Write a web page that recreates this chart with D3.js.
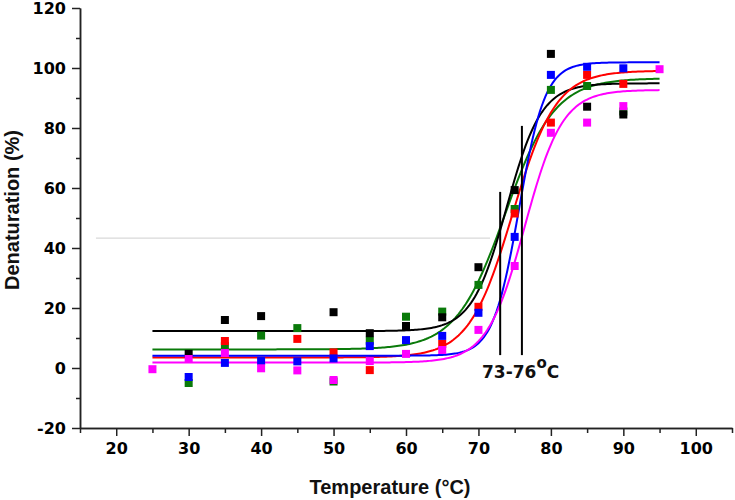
<!DOCTYPE html>
<html>
<head>
<meta charset="utf-8">
<script src="https://cdn.jsdelivr.net/npm/d3@7"></script>
<style>
  body { margin: 0; background: #fff; }
  svg { display: block; }
  .tick text { font-family: "DejaVu Sans", sans-serif; font-weight: bold; font-size: 16px; fill: #000; }
  .axis path, .axis line { stroke: #222; stroke-width: 1.5; }
  .title { font-family: "Liberation Sans", Arial, sans-serif; font-weight: bold; font-size: 20px; fill: #111; }
</style>
</head>
<body>
<div id="chart"></div>
<script>
const width = 735;
const height = 500;

// measured temperatures (°C)
const temps = [25, 30, 35, 40, 45, 50, 55, 60, 65, 70, 75, 80, 85, 90, 95];

// denaturation (%) per sample, null = no point
const blackVals   = [null, 4.7, 16, 17.3, null, 18.6, 11.6, 14, 16.9, 33.6, 59.3, 104.7, 87.1, 84.5, null];
const greenVals   = [null, -5, 7.3, 10.8, 13.3, -4.5, 9.1, 17.1, 18.8, 27.7, 53, 92.7, 94, 85.5, null];
const redVals     = [null, null, 9, null, 9.7, 5.2, -0.7, null, 8, 20.4, 51.5, 81.8, 97.7, 94.7, null];
const blueVals    = [null, -3, 1.7, 2.3, 2.2, 3.2, 7.3, 9.3, 10.7, 18.4, 43.7, 97.7, 100.4, 99.9, null];
const magentaVals = [-0.4, 3, 5, -0.1, -0.8, -4, 2.3, 4.7, 6, 12.7, 34, 78.4, 81.8, 87.3, 99.6];

const seriesNames  = ["green", "black", "red", "blue", "magenta"];
const seriesColors = ["#0a7a0a", "#000000", "#ff0000", "#0000ff", "#ff00ff"];
const seriesVals   = [greenVals, blackVals, redVals, blueVals, magentaVals];

// Boltzmann fit: bottom, top, midpoint, width
const fitBottom = [6.2, 12.3, 3.5, 4.1, 1.8];
const fitTop    = [96.6, 94.9, 99.1, 101.9, 92.7];
const fitMid    = [73.7, 73.9, 74.7, 75.6, 76.4];
const fitWidth  = [3.4, 2.4, 3.0, 1.8, 2.6];
const fitRange  = [25, 95];

// annotation
const markTemps  = [73, 76];
const markTops   = [58.7, 80.7];
const markBottom = 4.3;
const refLevel   = 43.3;
const refFrom    = 17.2;
const refTo      = 71.6;

const xTicks = [20, 30, 40, 50, 60, 70, 80, 90, 100];
const xMinor = [15, 25, 35, 45, 55, 65, 75, 85, 95, 105];
const yTicks = [-20, 0, 20, 40, 60, 80, 100, 120];
const yMinor = [-10, 10, 30, 50, 70, 90, 110];

const svg = d3.select("#chart")
  .append("svg")
  .attr("width", width)
  .attr("height", height);

const x = d3.scaleLinear().domain([15, 105]).range([80, 732]);
const y = d3.scaleLinear().domain([-20, 120]).range([428, 8]);

const plain = function (d) { return String(d); };

// axes
svg.append("g")
  .attr("class", "axis")
  .attr("transform", "translate(0," + y(-20) + ")")
  .call(d3.axisBottom(x).tickValues(xMinor).tickSize(5).tickSizeOuter(0).tickFormat(""));
svg.append("g")
  .attr("class", "axis")
  .attr("transform", "translate(0," + y(-20) + ")")
  .call(d3.axisBottom(x).tickValues(xTicks).tickSize(8).tickSizeOuter(0).tickPadding(7).tickFormat(plain));

svg.append("g")
  .attr("class", "axis")
  .attr("transform", "translate(" + x(15) + ",0)")
  .call(d3.axisLeft(y).tickValues(yMinor).tickSize(4).tickSizeOuter(0).tickFormat(""));
svg.append("g")
  .attr("class", "axis")
  .attr("transform", "translate(" + x(15) + ",0)")
  .call(d3.axisLeft(y).tickValues(yTicks).tickSize(8).tickSizeOuter(0).tickPadding(6).tickFormat(plain));

// titles
svg.append("text")
  .attr("class", "title")
  .attr("text-anchor", "middle")
  .attr("x", 390)
  .attr("y", 494)
  .text("Temperature (°C)");

svg.append("text")
  .attr("class", "title")
  .attr("text-anchor", "middle")
  .attr("transform", "translate(19,210) rotate(-90)")
  .text("Denaturation (%)");

// faint reference line
svg.append("line")
  .attr("x1", x(refFrom)).attr("x2", x(refTo))
  .attr("y1", y(refLevel)).attr("y2", y(refLevel))
  .attr("stroke", "#cfcfcf")
  .attr("stroke-width", 1);

// fitted curves
const line = d3.line()
  .x(function (d) { return x(d[0]); })
  .y(function (d) { return y(d[1]); });

seriesNames.forEach(function (name, i) {
  const pts = d3.range(fitRange[0], fitRange[1] + 0.001, 0.25).map(function (t) {
    const v = fitBottom[i] + (fitTop[i] - fitBottom[i]) / (1 + Math.exp((fitMid[i] - t) / fitWidth[i]));
    return [t, v];
  });
  svg.append("path")
    .datum(pts)
    .attr("fill", "none")
    .attr("stroke", seriesColors[i])
    .attr("stroke-width", 2)
    .attr("d", line);
});

// data points
seriesNames.forEach(function (name, i) {
  const pts = temps.map(function (t, j) { return [t, seriesVals[i][j]]; })
    .filter(function (d) { return d[1] !== null; });
  svg.append("g")
    .selectAll("rect")
    .data(pts).enter()
    .append("rect")
    .attr("x", function (d) { return x(d[0]) - 4; })
    .attr("y", function (d) { return y(d[1]) - 4; })
    .attr("width", 8)
    .attr("height", 8)
    .attr("fill", seriesColors[i]);
});

// 73-76 marker lines
svg.append("g")
  .selectAll("line")
  .data(markTemps).enter()
  .append("line")
  .attr("x1", function (d) { return x(d); })
  .attr("x2", function (d) { return x(d); })
  .attr("y1", function (d, i) { return y(markTops[i]); })
  .attr("y2", y(markBottom))
  .attr("stroke", "#000")
  .attr("stroke-width", 2);

const lab = svg.append("text")
  .attr("x", 482)
  .attr("y", 378)
  .style("font-family", "DejaVu Sans, sans-serif")
  .style("font-weight", "bold")
  .style("font-size", "17px")
  .attr("fill", "#111");
lab.append("tspan").text("73-76");
lab.append("tspan").attr("dy", -10).style("font-size", "15px").text("o");
lab.append("tspan").attr("dy", 10).text("C");
</script>
</body>
</html>
